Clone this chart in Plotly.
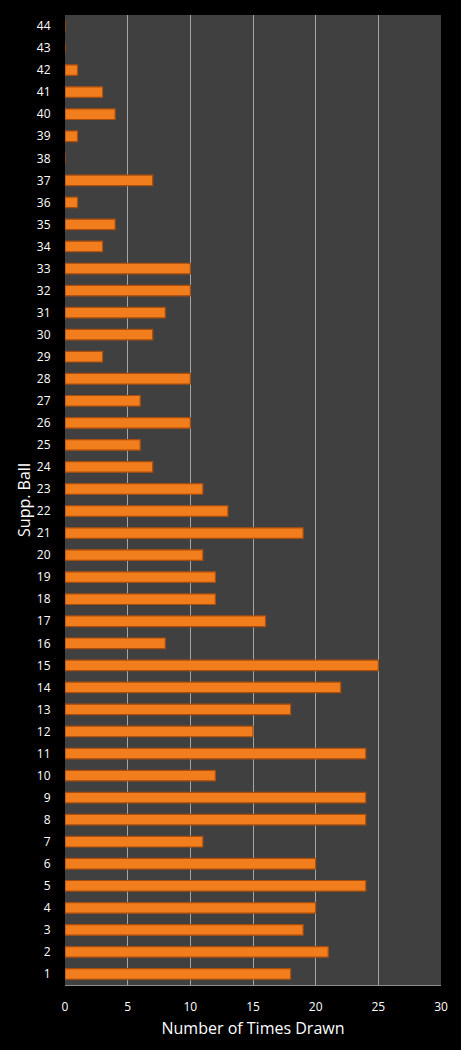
import plotly.graph_objects as go

balls = [str(i) for i in range(1, 45)]
times_drawn = [18, 21, 19, 20, 24, 20, 11, 24, 24, 12,
               24, 15, 18, 22, 25, 8, 16, 12, 12, 11,
               19, 13, 11, 7, 6, 10, 6, 10, 3, 7,
               8, 10, 10, 3, 4, 1, 7, 0, 1, 4,
               3, 1, 0, 0]
x_ticks = [0, 5, 10, 15, 20, 25, 30]

fig = go.Figure()
fig.add_trace(go.Bar(
    x=times_drawn, y=balls, orientation="h",
    marker=dict(color="#f27d1c", line=dict(color="#a94e0c", width=1.2)),
))

font_family = "Open Sans, DejaVu Sans, sans-serif"
fig.update_layout(
    width=461, height=1050,
    margin=dict(l=65, r=20, t=15, b=65),
    paper_bgcolor="#000000",
    plot_bgcolor="#404040",
    bargap=0.52,
    showlegend=False,
    font=dict(family=font_family, color="#ffffff", size=12),
    xaxis=dict(
        range=[0, 30], tickvals=x_ticks, ticktext=[str(v) for v in x_ticks],
        showgrid=True, gridcolor="#a6a6a6", gridwidth=1,
        zeroline=False, showline=True, linecolor="#8c8c8c", mirror=False,
        tickfont=dict(size=12, color="#ffffff"),
        title=dict(text="Number of Times Drawn", font=dict(size=16, color="#ffffff"), standoff=8),
        ticks="outside", ticklen=11, tickcolor="#000000", fixedrange=True,
    ),
    yaxis=dict(
        type="category", categoryorder="array", categoryarray=balls,
        range=[-0.5, 43.5],
        showgrid=False, zeroline=False,
        tickfont=dict(size=12, color="#ffffff"),
        title=dict(text="Supp. Ball", font=dict(size=16, color="#ffffff"), standoff=2),
        ticks="outside", ticklen=11, tickcolor="#000000", fixedrange=True,
    ),
)

fig.write_html("out.html", config={"displayModeBar": False},
               post_script="document.body.style.margin='0';document.body.style.background='#000';")
